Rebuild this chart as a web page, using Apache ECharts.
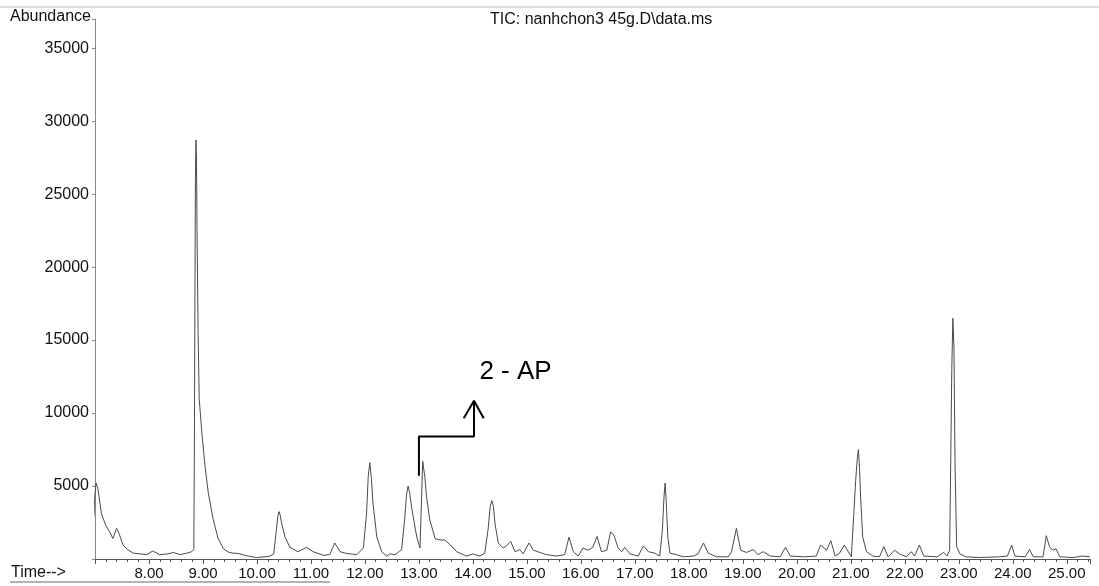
<!DOCTYPE html>
<html lang="en">
<head>
    <meta charset="UTF-8">
    <script src="https://cdn.jsdelivr.net/npm/echarts/dist/echarts.min.js"></script>
    <title>TIC</title>
    <style>
        body{
            margin: 0;
            background: #fff;
        }
        #chart{
            width: 1099px;
            height: 586px;
        }
    </style>
</head>
<body>
<div id="chart"></div>
<script>
    // retention time (min)
    let times = [
        6.98, 6.99, 7.02, 7.05, 7.12, 7.20, 7.28, 7.33, 7.40, 7.45, 7.52, 7.60, 7.71, 7.96, 8.07, 8.20, 8.35, 8.45, 8.57, 8.70,
        8.79, 8.83, 8.84, 8.85, 8.86, 8.87, 8.88, 8.89, 8.91, 8.93, 8.98, 9.04, 9.10, 9.19, 9.28, 9.38, 9.48, 9.56, 9.65, 9.81,
        9.99, 10.15, 10.24, 10.31, 10.36, 10.39, 10.41, 10.43, 10.46, 10.52, 10.61, 10.76, 10.92, 11.04, 11.23, 11.35, 11.44, 11.54, 11.66, 11.85,
        11.97, 12.03, 12.06, 12.09, 12.12, 12.15, 12.22, 12.31, 12.40, 12.46, 12.56, 12.68, 12.74, 12.77, 12.80, 12.83, 12.87, 12.96, 13.02, 13.05,
        13.07, 13.09, 13.11, 13.14, 13.20, 13.30, 13.39, 13.48, 13.57, 13.70, 13.88, 14.00, 14.13, 14.22, 14.28, 14.32, 14.35, 14.38, 14.41, 14.47,
        14.56, 14.62, 14.70, 14.78, 14.87, 14.93, 15.04, 15.12, 15.24, 15.36, 15.55, 15.70, 15.78, 15.86, 15.95, 16.04, 16.13, 16.22, 16.30, 16.38,
        16.48, 16.55, 16.61, 16.69, 16.76, 16.81, 16.91, 17.06, 17.16, 17.25, 17.37, 17.46, 17.51, 17.54, 17.56, 17.58, 17.61, 17.65, 17.77, 17.89,
        18.08, 18.17, 18.27, 18.36, 18.51, 18.73, 18.79, 18.88, 18.96, 19.07, 19.19, 19.28, 19.38, 19.51, 19.69, 19.79, 19.88, 20.13, 20.36, 20.44,
        20.55, 20.63, 20.71, 20.79, 20.88, 21.01, 21.09, 21.12, 21.14, 21.16, 21.18, 21.22, 21.29, 21.41, 21.53, 21.61, 21.69, 21.81, 21.90, 22.03,
        22.12, 22.18, 22.27, 22.35, 22.60, 22.72, 22.78, 22.83, 22.85, 22.87, 22.89, 22.91, 22.93, 22.96, 23.02, 23.05, 23.13, 23.38, 23.75, 23.90,
        23.98, 24.04, 24.23, 24.31, 24.38, 24.56, 24.62, 24.68, 24.71, 24.74, 24.80, 24.87, 25.12, 25.28, 25.43
    ];
    // abundance at each time
    let abundance = [
        2900, 4000, 5200, 4900, 3100, 2300, 1800, 1400, 2100, 1700, 950, 650, 400, 300, 550, 300, 350, 450, 300, 400,
        500, 650, 7000, 17000, 26000, 28700, 27500, 22500, 15500, 11000, 8600, 6300, 4500, 2700, 1400, 700, 450, 400, 380, 220,
        100, 150, 200, 350, 2000, 3000, 3250, 3000, 2400, 1500, 800, 500, 800, 500, 250, 300, 1100, 500, 380, 300,
        750, 3100, 5600, 6600, 5500, 3800, 1500, 500, 200, 350, 300, 650, 2900, 4400, 5000, 4500, 3400, 1500, 750, 4300,
        6700, 6800, 5600, 4300, 2700, 1400, 1300, 1300, 1000, 500, 200, 350, 200, 400, 2000, 3600, 4000, 3600, 2400, 1100,
        750, 900, 1200, 500, 650, 350, 1100, 600, 450, 300, 200, 300, 1500, 500, 200, 750, 600, 800, 1550, 500,
        600, 1850, 1650, 750, 500, 800, 350, 200, 900, 500, 400, 200, 2000, 4300, 5200, 4000, 1500, 400, 300, 150,
        200, 350, 1100, 400, 150, 150, 500, 2100, 600, 450, 650, 300, 500, 200, 150, 800, 200, 150, 200, 950,
        600, 1250, 200, 400, 950, 150, 5400, 6900, 7500, 6300, 4300, 1500, 500, 200, 150, 850, 150, 600, 350, 150,
        500, 200, 950, 200, 150, 450, 200, 600, 6600, 13000, 16500, 14500, 6600, 850, 350, 450, 150, 100, 150, 200,
        950, 200, 150, 650, 150, 150, 1600, 850, 800, 600, 700, 150, 100, 200, 150
    ];

    // annotation arrow pointing at the 2-AP peak
    let arrowTimes = [13.0, 13.0, 14.02, 14.02];
    let arrowValues = [5700, 8400, 8400, 10800];
    let headTimes = [13.83, 14.02, 14.2];
    let headValues = [9650, 10850, 9650];
    let labelPos = [14.12, 12800];
    let labelText = '2 - AP';

    function zip(a, b){
        return a.map((v, i) => [v, b[i]]);
    }

    let font = 'Liberation Sans, Arial, sans-serif';
    var myChart = echarts.init(document.getElementById('chart'));
    myChart.setOption({
        animation: false,
        title: {
            text: 'TIC: nanhchon3 45g.D\\data.ms',
            left: 485,
            top: 7,
            textStyle: { fontFamily: font, fontSize: 16, fontWeight: 'normal', color: '#111' }
        },
        grid: { left: 95, right: 9, top: 19, bottom: 27 },
        xAxis: {
            type: 'value',
            min: 7,
            max: 25.43,
            interval: 1,
            axisLine: { lineStyle: { color: '#555', width: 1 } },
            axisTick: { length: 5, lineStyle: { color: '#555' } },
            minorTick: { show: true, splitNumber: 5, length: 3, lineStyle: { color: '#555' } },
            splitLine: { show: false },
            axisLabel: {
                fontFamily: font, fontSize: 15, color: '#111', margin: 7,
                formatter: v => (Math.abs(v - Math.round(v)) < 1e-6 && v >= 8) ? v.toFixed(2) : ''
            }
        },
        yAxis: {
            type: 'value',
            min: 0,
            max: 37000,
            interval: 5000,
            axisLine: { show: true, lineStyle: { color: '#888', width: 1 } },
            axisTick: { show: true, length: 3, lineStyle: { color: '#888' } },
            splitLine: { show: false },
            axisLabel: {
                fontFamily: font, fontSize: 16, color: '#111', margin: 6,
                formatter: v => (v > 0 && v % 5000 === 0) ? v : ''
            }
        },
        series: [
            {
                type: 'line',
                data: zip(times, abundance),
                symbol: 'none',
                lineStyle: { color: '#4a4a4a', width: 1 }
            },
            {
                type: 'line',
                data: zip(arrowTimes, arrowValues),
                symbol: 'none',
                lineStyle: { color: '#000', width: 2 },
                z: 5
            },
            {
                type: 'line',
                data: zip(headTimes, headValues),
                symbol: 'none',
                lineStyle: { color: '#000', width: 2 },
                z: 5
            }
        ]
    });

    // label next to the arrow, placed through the axes
    let p = myChart.convertToPixel({ gridIndex: 0 }, labelPos);
    myChart.setOption({
        graphic: [
            { type: 'text', left: 10, top: 9, style: { text: 'Abundance', font: '16px ' + font, fill: '#111' } },
            { type: 'text', left: 11, top: 565, style: { text: 'Time-->', font: '16px ' + font, fill: '#111' } },
            { type: 'line', shape: { x1: 0, y1: 7, x2: 1099, y2: 7 }, style: { stroke: '#bbb', lineWidth: 1 } },
            { type: 'line', shape: { x1: 10, y1: 582, x2: 330, y2: 582 }, style: { stroke: '#666', lineWidth: 1 } },
            { type: 'text', x: p[0], y: p[1], style: { text: labelText, font: '26px ' + font, fill: '#000', textVerticalAlign: 'middle' } }
        ]
    });
</script>
</body>
</html>
